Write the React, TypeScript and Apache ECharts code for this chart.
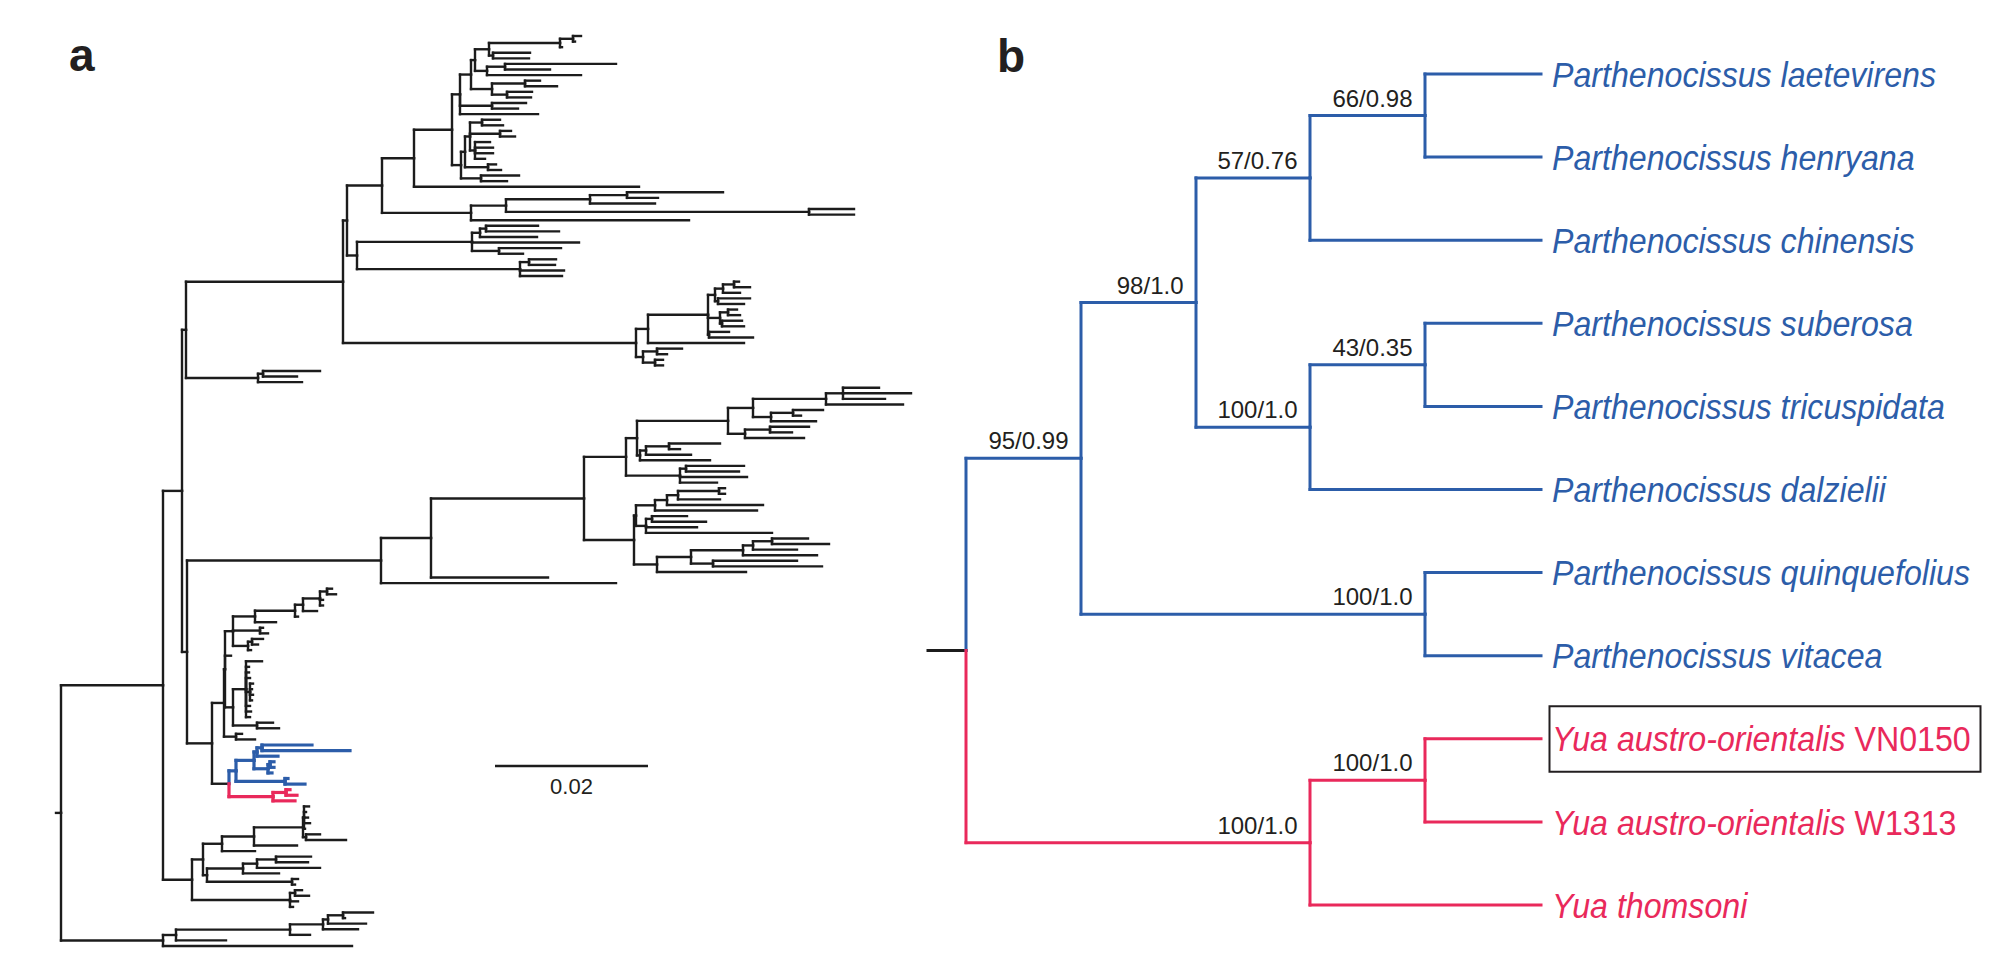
import React, { useEffect, useRef } from "react";
import * as echarts from "echarts";

// ---------------- Panel a: large phylogeny (Newick, branch lengths in scale units; SCALE_BAR.length units = 0.02)
const A_B1_UPPER = "((((((:8,:2):13,:2):71,(:37,:36):4):14,((:111,:45):18,:94):12):4,((:15,:32):33,(:25,:24):15):21):11,(:34,:26):32,:78)";
const A_B1_MID = "((((:18,:21):12,(:11,:15):30,(:15,:18,:18,:10):5):5,(:8,:13):23):4,(:38,:26):20)";
const A_B1_LOW = "((((:96,:31):37,:65):84,(:45,:45):303):35,:218)";
const A_B1 = `(((${A_B1_UPPER}:8,${A_B1_MID}:9):38,:225):32,${A_B1_LOW}:89)`;
const A_B2 = "((((:52,:73):6,:57):8,:107,(:62,:24):27):115,((:27,:26):9,:44,:42):163)";
const A_B3 = "((((((:5,:16):11,:17):8,(:32,:26):3):7,((:9,:12):8,(:20,:22):2):12,(:20,:44):1):60,:96):12,((:25,:10):14,(:8,:8):12):7)";
const A_C = "((:57,:34):5,:44)";
const A_B = `((${A_B1}:35,${A_B2}:10):4,${A_B3}:293)`;
const A_A1A = `(${A_B}:157,${A_C}:72)`;

const A_D_UPPER = "(((((:36,:68,:42):17,:77):73,((:30,:8):22,:45):18):25,((:39,:22):25,:59):17):91,(((:51,:11):23,:45):6,:70):3)";
const A_D_LOWER = "((((((:6,:6):41,:42):11,:96):12,:102):19,((:35,:54):6,:51,:126):10):2,(((((:36,:57):19,:44):10,:74):52,(:84,:109):22):34,:89):23)";
const A_D = `((((${A_D_UPPER}:11,((:58,:53):6,:67,:37):54):42,${A_D_LOWER}:50):153,:117):50,:235)`;

const A_E_UPPER = "((((((:5,:9):7,:3,:3):17,:14):8,:3):40,:21):22,(:3,:8):27,((:11,:6):4,:3):15)";
const A_E_COMB = "((:16,:3,:3,:4,(:3,:2,:3,:2):4,:4,:5,:4):13,(:16,:22):24)";
const A_E_BLUE = "((((P:50,P:88):5,P:21):3,((P:4,P:4):2,P:4):14):18,(P:3,P:20):49)";
const A_E_RED = "((Y:4,Y:11):13,Y:22)";
const A_E = `(((${A_E_UPPER}:8,:6,${A_E_COMB}:8):1,(:6,:19):12):12,(${A_E_BLUE}:7,${A_E_RED}:44):17)`;
const A_A1B = `(${A_D}:194,${A_E}:25)`;
const A_A1 = `(${A_A1A}:4,${A_A1B}:5)`;

const A_A2 = "((((((:5,:2,:4,:6,:1):1,(:14,:40):3):49,:43):32,:33):19,((((:35,:32):19,:63):14,:36):36,(:6,:3):85):4):11,((:7,:14):5,:8,:3):98)";
const A_Z = "((((((:30,:2):15,:38):5,:35):33,:20):114,:50):13,:189)";
const A_TREE = `((${A_A1}:19,${A_A2}:29):102,${A_Z}:102)`;
const A_ROOT_STUB = 5;
const SCALE_BAR = { x: 439, row: 130.75, length: 153, label: "0.02" };

// ---------------- Panel b: Parthenocissus / Yua tree (internal node names = ML bootstrap / posterior probability)
const B_TREE = "(((((0:116,1:116)66/0.98:115,2:231)57/0.76:114,((3:116,4:116)43/0.35:115,5:231)100/1.0:114)98/1.0:115,(6:116,7:116)100/1.0:344)95/0.99:115,((8:116,9:116)100/1.0:115,10:231)100/1.0:344)";
const B_ROOT_STUB = 38;
const B_TIP_NAMES = [
  "Parthenocissus laetevirens",
  "Parthenocissus henryana",
  "Parthenocissus chinensis",
  "Parthenocissus suberosa",
  "Parthenocissus tricuspidata",
  "Parthenocissus dalzielii",
  "Parthenocissus quinquefolius",
  "Parthenocissus vitacea",
  "Yua austro-orientalis",
  "Yua austro-orientalis",
  "Yua thomsoni",
];
const B_TIP_SUFFIX = ["", "", "", "", "", "", "", "", "VN0150", "W1313", ""];
const B_TIP_CLADE = ["P", "P", "P", "P", "P", "P", "P", "P", "Y", "Y", "Y"];
const B_TIP_BOXED = [false, false, false, false, false, false, false, false, true, false, false];

const COLORS = ["#1c1c1c", "#2c5da9", "#e9295b"];
const CLADE_CODE: Record<string, number> = { "": 0, P: 1, Y: 2 };
const FONT = '"Liberation Sans", Arial, Helvetica, sans-serif';

type TNode = { name: string; len: number; children: TNode[]; x: number; y: number; clade: string };

function parseNewick(s: string): TNode {
  let i = 0;
  const parse = (): TNode => {
    const node: TNode = { name: "", len: 0, children: [], x: 0, y: 0, clade: "" };
    if (s[i] === "(") {
      i++;
      node.children.push(parse());
      while (s[i] === ",") {
        i++;
        node.children.push(parse());
      }
      i++;
    }
    let name = "";
    while (i < s.length && !":,();".includes(s[i])) name += s[i++];
    node.name = name.trim();
    if (s[i] === ":") {
      i++;
      let num = "";
      while (i < s.length && /[0-9.eE+\-]/.test(s[i])) num += s[i++];
      node.len = parseFloat(num);
    }
    return node;
  };
  return parse();
}

function layoutTree(src: string, stub: number, cladeOf: (name: string) => string) {
  const root = parseNewick(src);
  let idx = 0;
  const tips: TNode[] = [];
  const internals: TNode[] = [];
  const walk = (n: TNode, x: number) => {
    n.x = x;
    if (n.children.length === 0) {
      n.y = idx++;
      n.clade = cladeOf(n.name);
      tips.push(n);
    } else {
      n.children.forEach((c) => walk(c, x + c.len));
      n.y = (n.children[0].y + n.children[n.children.length - 1].y) / 2;
      const cl = n.children[0].clade;
      n.clade = n.children.every((c) => c.clade === cl) ? cl : "";
      internals.push(n);
    }
  };
  walk(root, stub);
  const segs: number[][] = [[0, root.y, root.x, root.y, 0]];
  const visit = (n: TNode) =>
    n.children.forEach((c) => {
      const code = CLADE_CODE[c.clade] ?? 0;
      segs.push([n.x, n.y, n.x, c.y, code]);
      segs.push([n.x, c.y, c.x, c.y, code]);
      visit(c);
    });
  visit(root);
  segs.sort((a, b) => a[4] - b[4]);
  return { root, tips, internals, segs, nTips: idx };
}

export default function App() {
  const ref = useRef<HTMLDivElement>(null);
  useEffect(() => {
    const treeA = layoutTree(A_TREE, A_ROOT_STUB, (n) => (n === "P" || n === "Y" ? n : ""));
    const treeB = layoutTree(B_TREE, B_ROOT_STUB, (n) => B_TIP_CLADE[Number(n)] ?? "");
    const supportsB = treeB.internals.filter((n) => n.name !== "");

    const chart = echarts.init(ref.current!, null, { renderer: "svg" });
    const segRender = (black: number, colored: number) => (params: any, api: any) => {
      const a = api.coord([api.value(0), api.value(1)]);
      const b = api.coord([api.value(2), api.value(3)]);
      const code = api.value(4) as number;
      return {
        type: "line",
        shape: { x1: a[0], y1: a[1], x2: b[0], y2: b[1] },
        style: { stroke: COLORS[code], lineWidth: code === 0 ? black : colored, lineCap: "square" },
      };
    };

    chart.setOption({
      animation: false,
      backgroundColor: "#ffffff",
      grid: [
        { left: 56, top: 36, width: 900, height: 910 },
        { left: 928, top: 74, width: 1000, height: 831 },
      ],
      xAxis: [
        { type: "value", gridIndex: 0, min: 0, max: 900, show: false },
        { type: "value", gridIndex: 1, min: 0, max: 1000, show: false },
      ],
      yAxis: [
        { type: "value", gridIndex: 0, min: 0, max: treeA.nTips - 1, inverse: true, show: false },
        { type: "value", gridIndex: 1, min: 0, max: treeB.nTips - 1, inverse: true, show: false },
      ],
      graphic: [
        { type: "text", x: 69, y: 55, style: { text: "a", fontSize: 46, fontWeight: "bold", fontFamily: FONT, fill: "#231f20", verticalAlign: "middle" } },
        { type: "text", x: 997, y: 56, style: { text: "b", fontSize: 46, fontWeight: "bold", fontFamily: FONT, fill: "#231f20", verticalAlign: "middle" } },
      ],
      series: [
        {
          type: "custom",
          name: "tree a",
          xAxisIndex: 0,
          yAxisIndex: 0,
          clip: false,
          encode: { x: [0, 2], y: [1, 3] },
          data: treeA.segs,
          renderItem: segRender(2.4, 3.2),
        },
        {
          type: "custom",
          name: "scale bar",
          xAxisIndex: 0,
          yAxisIndex: 0,
          clip: false,
          data: [[SCALE_BAR.x, SCALE_BAR.row]],
          renderItem: (params: any, api: any) => {
            const p1 = api.coord([api.value(0), api.value(1)]);
            const p2 = api.coord([api.value(0) + SCALE_BAR.length, api.value(1)]);
            return {
              type: "group",
              children: [
                { type: "line", shape: { x1: p1[0], y1: p1[1], x2: p2[0], y2: p2[1] }, style: { stroke: "#1c1c1c", lineWidth: 2.6 } },
                {
                  type: "text",
                  x: (p1[0] + p2[0]) / 2,
                  y: p1[1] + 20.5,
                  style: { text: SCALE_BAR.label, fontSize: 22, fontFamily: FONT, fill: "#231f20", align: "center", verticalAlign: "middle" },
                },
              ],
            };
          },
        },
        {
          type: "custom",
          name: "tree b",
          xAxisIndex: 1,
          yAxisIndex: 1,
          clip: false,
          encode: { x: [0, 2], y: [1, 3] },
          data: treeB.segs,
          renderItem: segRender(3, 3),
        },
        {
          type: "custom",
          name: "support b",
          xAxisIndex: 1,
          yAxisIndex: 1,
          clip: false,
          data: supportsB.map((n) => [n.x, n.y]),
          renderItem: (params: any, api: any) => {
            const p = api.coord([api.value(0), api.value(1)]);
            return {
              type: "text",
              x: p[0] - 12.5,
              y: p[1] - 17.5,
              style: {
                text: supportsB[params.dataIndex].name,
                fontSize: 24,
                fontFamily: FONT,
                fill: "#231f20",
                align: "right",
                verticalAlign: "middle",
              },
            };
          },
        },
        {
          type: "custom",
          name: "tips b",
          xAxisIndex: 1,
          yAxisIndex: 1,
          clip: false,
          data: treeB.tips.map((t) => [t.x, t.y, Number(t.name)]),
          renderItem: (params: any, api: any) => {
            const p = api.coord([api.value(0), api.value(1)]);
            const k = api.value(2) as number;
            const color = COLORS[CLADE_CODE[B_TIP_CLADE[k]]];
            const lx = p[0] + 11;
            const text = B_TIP_SUFFIX[k] ? `{i|${B_TIP_NAMES[k]}} {n|${B_TIP_SUFFIX[k]}}` : `{i|${B_TIP_NAMES[k]}}`;
            const children: any[] = [
              {
                type: "text",
                x: lx,
                y: p[1],
                scaleX: 0.893,
                style: {
                  text,
                  fontSize: 36,
                  fontFamily: FONT,
                  fill: color,
                  align: "left",
                  verticalAlign: "middle",
                  rich: {
                    i: { fontSize: 36, fontFamily: FONT, fontStyle: "italic", fill: color },
                    n: { fontSize: 36, fontFamily: FONT, fontStyle: "normal", fill: color },
                  },
                },
              },
            ];
            if (B_TIP_BOXED[k]) {
              children.unshift({
                type: "rect",
                shape: { x: lx - 2.5, y: p[1] - 32.5, width: 431, height: 65.5 },
                style: { fill: "none", stroke: "#231f20", lineWidth: 2 },
              });
            }
            return { type: "group", children };
          },
        },
      ],
    });
    return () => chart.dispose();
  }, []);
  return (
    <div
      ref={ref}
      style={{ position: "fixed", left: 0, top: 0, width: 2012, height: 967, background: "#ffffff" }}
    />
  );
}
